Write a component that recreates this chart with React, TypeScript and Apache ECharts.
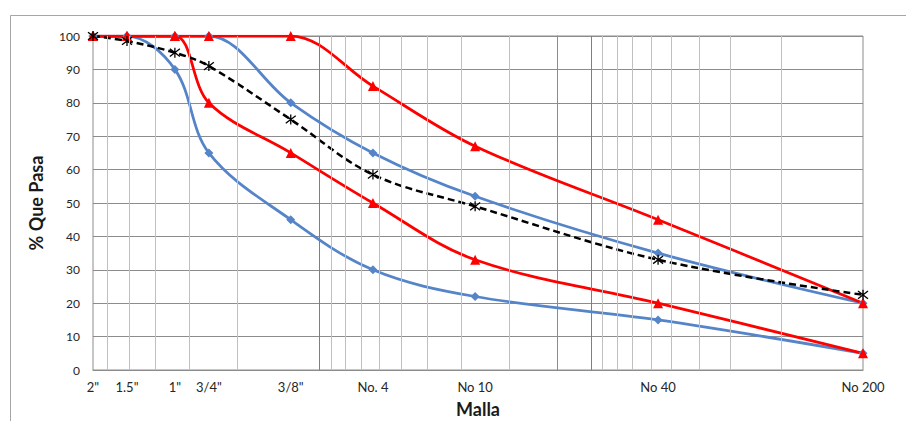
import React, { useEffect, useRef } from 'react';
import * as echarts from 'echarts';

// Sieve names and openings (mm)
const sieveNames = ['2"', '1.5"', '1"', '3/4"', '3/8"', 'No. 4', 'No 10', 'No 40', 'No 200'];
const sieveMm = [50.8, 38.1, 25.4, 19.05, 9.525, 4.75, 2.0, 0.425, 0.075];

// % passing
const upperBlue = [100, 100, 100, 100, 80, 65, 52, 35, 20];
const lowerBlue = [100, 100, 90, 65, 45, 30, 22, 15, 5];
const upperRed = [100, 100, 100, 100, 100, 85, 67, 45, 20];
const lowerRed = [100, 100, 100, 80, 65, 50, 33, 20, 5];
const sample = [100, 98.5, 95, 91, 75, 58.5, 49, 33, 22.5];

// vertical reference lines (mm)
const gridMajorMm = [7.5, 0.75];
const gridMinorMm = [45, 37.5, 30, 22.5, 15, 6.75, 6, 5.25, 4.5, 3.75, 3, 2.25, 1.5, 0.675, 0.6, 0.525, 0.45, 0.375, 0.3, 0.225, 0.15];

const FONT = 'Lato, "Noto Sans", sans-serif';
const BLUE = '#5585C8';
const RED = '#FF0000';

const pairs = (ys: number[]) => sieveMm.map((x, i) => [x, ys[i]]);

export default function App() {
  const ref = useRef<HTMLDivElement>(null);
  useEffect(() => {
    if (!ref.current) return;
    const chart = echarts.init(ref.current, undefined, { renderer: 'svg' });
    const logs = sieveMm.map((v) => Math.log10(v));
    const nameFor = (v: number) => {
      let best = 0;
      let bd = Infinity;
      logs.forEach((l, i) => {
        const d = Math.abs(l - v);
        if (d < bd) { bd = d; best = i; }
      });
      return sieveNames[best];
    };
    const star = 'path://M0,0L10,10M10,0L0,10M5,-1.5L5,11.5';
    chart.setOption({
      animation: false,
      backgroundColor: '#ffffff',
      textStyle: { fontFamily: FONT },
      graphic: [
        {
          type: 'rect',
          shape: { x: 10.5, y: 15.5, width: 1200, height: 1200 },
          style: { fill: 'none', stroke: '#a6a6a6', lineWidth: 1 },
          silent: true,
        },
      ],
      grid: {
        left: 93, right: 43, top: 36, bottom: 51,
        outerBoundsMode: 'none',
        containLabel: false,
        show: true, borderColor: '#8c8c8c', borderWidth: 1,
      },
      xAxis: [
        {
          type: 'log',
          inverse: true,
          min: sieveMm[sieveMm.length - 1],
          max: sieveMm[0],
          name: 'Malla',
          nameLocation: 'middle',
          nameGap: 30,
          nameTextStyle: { fontSize: 18, fontWeight: 'bold', color: '#1a1a1a', fontFamily: FONT },
          axisLine: { show: true, lineStyle: { color: '#8c8c8c' } },
          axisTick: { show: false },
          axisLabel: { show: false },
          splitLine: { show: false },
          minorTick: { show: false },
        },
        {
          type: 'value',
          position: 'bottom',
          offset: 0,
          inverse: true,
          min: logs[logs.length - 1],
          max: logs[0],
          axisLine: { show: false },
          axisTick: { show: false },
          splitLine: { show: false },
          axisLabel: {
            show: true,
            customValues: logs,
            formatter: (v: number) => nameFor(v),
            margin: 10,
            fontSize: 13,
            color: '#262626',
            fontFamily: FONT,
          },
        },
      ],
      yAxis: {
        type: 'value',
        min: 0,
        max: 100,
        interval: 10,
        name: '% Que Pasa',
        nameLocation: 'middle',
        nameGap: 48,
        nameTextStyle: { fontSize: 18, fontWeight: 'bold', color: '#1a1a1a', fontFamily: FONT },
        axisLine: { show: true, lineStyle: { color: '#8c8c8c' } },
        axisTick: { show: false },
        axisLabel: { margin: 13, fontSize: 12, color: '#262626', fontFamily: FONT },
        splitLine: { show: true, lineStyle: { color: '#8c8c8c', width: 1 } },
      },
      series: [
        {
          type: 'line',
          name: 'grid-minor',
          data: [],
          z: 1,
          silent: true,
          markLine: {
            silent: true,
            symbol: ['none', 'none'],
            label: { show: false },
            lineStyle: { color: '#c0c0c0', width: 1, type: 'solid' },
            data: gridMinorMm.map((v) => ({ xAxis: v })),
          },
        },
        {
          type: 'line',
          name: 'grid-major',
          data: [],
          z: 1,
          silent: true,
          markLine: {
            silent: true,
            symbol: ['none', 'none'],
            label: { show: false },
            lineStyle: { color: '#7f7f7f', width: 1, type: 'solid' },
            data: gridMajorMm.map((v) => ({ xAxis: v })),
          },
        },
        {
          type: 'line',
          name: 'Límite superior (azul)',
          data: pairs(upperBlue),
          smooth: 0.35,
          symbol: 'diamond',
          symbolSize: 9,
          lineStyle: { color: BLUE, width: 2.75 },
          itemStyle: { color: BLUE },
        },
        {
          type: 'line',
          name: 'Límite inferior (azul)',
          data: pairs(lowerBlue),
          smooth: 0.35,
          symbol: 'diamond',
          symbolSize: 9,
          lineStyle: { color: BLUE, width: 2.75 },
          itemStyle: { color: BLUE },
        },
        {
          type: 'line',
          name: 'Límite superior (rojo)',
          data: pairs(upperRed),
          smooth: 0.35,
          symbol: 'triangle',
          symbolSize: 10,
          lineStyle: { color: RED, width: 2.75 },
          itemStyle: { color: RED },
        },
        {
          type: 'line',
          name: 'Límite inferior (rojo)',
          data: pairs(lowerRed),
          smooth: 0.35,
          symbol: 'triangle',
          symbolSize: 10,
          lineStyle: { color: RED, width: 2.75 },
          itemStyle: { color: RED },
        },
        {
          type: 'line',
          name: 'Muestra',
          data: pairs(sample),
          smooth: 0.35,
          symbol: star,
          symbolSize: 10,
          lineStyle: { color: '#000000', width: 2.5, type: [7, 4] },
          itemStyle: { color: 'transparent', borderColor: '#000000', borderWidth: 1.3 },
        },
      ],
    });
    return () => chart.dispose();
  }, []);
  return (
    <div
      ref={ref}
      style={{ position: 'absolute', left: 0, top: 0, width: 906, height: 421 }}
    />
  );
}
